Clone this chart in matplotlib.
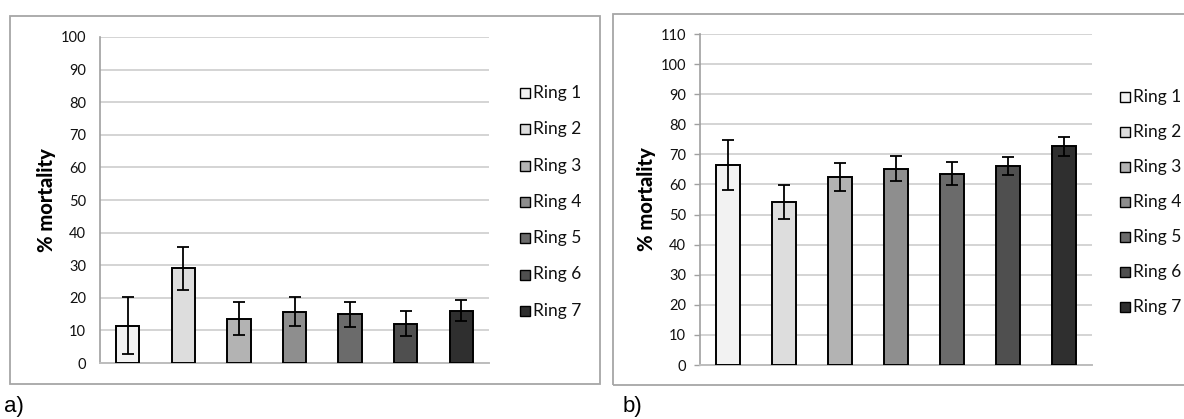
import matplotlib
matplotlib.use("Agg")
import matplotlib.pyplot as plt
from matplotlib.patches import Rectangle

plt.rcParams['font.family'] = ['Lato', 'DejaVu Sans']

# Data
rings = ["Ring 1", "Ring 2", "Ring 3", "Ring 4", "Ring 5", "Ring 6", "Ring 7"]
mort_a = [11.5, 29.0, 13.6, 15.7, 14.9, 12.0, 16.0]
err_a = [8.7, 6.5, 5.1, 4.4, 3.8, 3.8, 3.2]
mort_b = [66.4, 54.1, 62.5, 65.3, 63.6, 66.2, 72.7]
err_b = [8.3, 5.6, 4.7, 4.2, 3.7, 3.0, 3.1]
ring_colors = ["#f2f2f2", "#dddddd", "#b3b3b3", "#8e8e8e", "#6b6b6b", "#4f4f4f", "#2f2f2f"]
panel_tags = ["a)", "b)"]

W, H = 1184, 419
fig = plt.figure(figsize=(W / 100, H / 100), dpi=100)


def fx(px):
    return px / W


def fy(py):
    return 1 - py / H


GRID = "#d4d4d4"
FRAME = "#a6a6a6"


def draw_panel(rect_px, frame_px, values, errors, ymax, ticks_out, legend_px, tag_px, tag):
    x0, y_top, x1, y_zero = rect_px
    ax = fig.add_axes([fx(x0), fy(y_zero), fx(x1 - x0), (y_zero - y_top) / H])
    pos = list(range(len(values)))
    ax.bar(pos, values, width=0.42, color=ring_colors, edgecolor="black",
           linewidth=1.4, zorder=3)
    ax.errorbar(pos, values, yerr=errors, fmt="none", ecolor="black",
                elinewidth=1.3, capsize=4.2, capthick=1.3, zorder=4)
    ax.set_xlim(-0.5, len(values) - 0.5)
    ax.set_ylim(0, ymax)
    ax.set_yticks(range(0, ymax + 1, 10))
    ax.yaxis.grid(True, color=GRID, linewidth=1.4, zorder=0)
    ax.set_axisbelow(True)
    ax.set_xticks([])
    for s in ("top", "right"):
        ax.spines[s].set_visible(False)
    ax.spines["left"].set_color("#a0a0a0")
    ax.spines["left"].set_linewidth(1.2)
    ax.spines["bottom"].set_color("#bdbdbd")
    ax.spines["bottom"].set_linewidth(1.4)
    if ticks_out:
        ax.tick_params(axis="y", length=4, width=1.0, color="#a0a0a0",
                       pad=6, labelsize=10.5, labelcolor="#111111")
    else:
        ax.tick_params(axis="y", length=0, pad=10, labelsize=10.5,
                       labelcolor="#111111")
    ax.set_ylabel("% mortality", fontsize=14.5, fontweight="black")
    ax.yaxis.set_label_coords(-44 / (x1 - x0), 0.5)

    fx0, fy0, fx1, fy1 = frame_px
    fig.patches.append(Rectangle((fx(fx0), fy(fy1)), fx(fx1 - fx0), (fy1 - fy0) / H,
                                 transform=fig.transFigure, fill=False,
                                 edgecolor=FRAME, linewidth=1.3))

    lx, ly0, dy = legend_px
    for i, (name, col) in enumerate(zip(rings, ring_colors)):
        cy = ly0 + i * dy
        fig.patches.append(Rectangle((fx(lx), fy(cy + 5)), fx(10), 10 / H,
                                     transform=fig.transFigure, facecolor=col,
                                     edgecolor="black", linewidth=1.0))
        fig.text(fx(lx + 13), fy(cy), name, fontsize=12.5, va="center",
                 ha="left", color="#111111")

    fig.text(fx(tag_px[0]), fy(tag_px[1]), tag, fontsize=16, va="center",
             ha="left", family=["Liberation Sans", "DejaVu Sans"])
    return ax


draw_panel((100, 37, 489, 363), (10, 16, 600, 384), mort_a, err_a, 100, False,
           (520, 93, 36.3), (4, 406), panel_tags[0])
draw_panel((700, 34, 1092, 365), (613, 14, 1200, 385), mort_b, err_b, 110, True,
           (1120, 97, 35.0), (623, 406), panel_tags[1])

fig.savefig("out.png", dpi=100)
